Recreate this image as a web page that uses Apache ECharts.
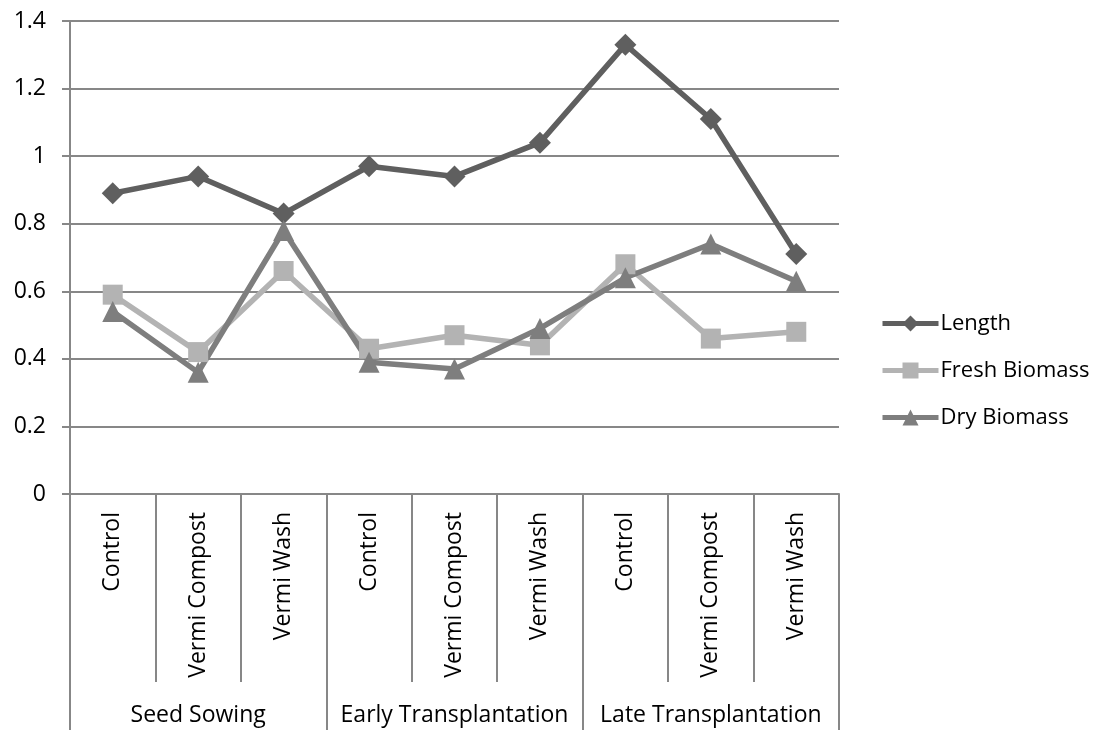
<!DOCTYPE html>
<html>
<head>
<meta charset="utf-8">
<script src="https://cdn.jsdelivr.net/npm/echarts@6/dist/echarts.min.js"></script>
<style>
  html, body { margin: 0; padding: 0; background: #ffffff; }
  #chart { width: 1095px; height: 730px; }
</style>
</head>
<body>
<div id="chart"></div>
<script>
// Treatments within each planting stage
const treatments = ['Control', 'Vermi Compost', 'Vermi Wash',
                    'Control', 'Vermi Compost', 'Vermi Wash',
                    'Control', 'Vermi Compost', 'Vermi Wash'];
const stages = ['Seed Sowing', 'Early Transplantation', 'Late Transplantation'];

const seriesNames = ['Length', 'Fresh Biomass', 'Dry Biomass'];
const lengthValues = [0.89, 0.94, 0.83, 0.97, 0.94, 1.04, 1.33, 1.11, 0.71];
const freshBiomass = [0.59, 0.42, 0.66, 0.43, 0.47, 0.44, 0.68, 0.46, 0.48];
const dryBiomass   = [0.54, 0.36, 0.78, 0.39, 0.37, 0.49, 0.64, 0.74, 0.63];

const yTicks = [0, 0.2, 0.4, 0.6, 0.8, 1, 1.2, 1.4];

const FONT = 'Open Sans';
const FONT_SIZE = 23;
const AXIS_GREY = '#878787';

const chart = echarts.init(document.getElementById('chart'), null, { renderer: 'canvas' });

function lineSeries(name, data, color, symbol, size) {
  return {
    name: name,
    type: 'line',
    data: data,
    xAxisIndex: 0,
    symbol: symbol,
    symbolSize: size,
    showAllSymbol: true,
    lineStyle: { color: color, width: 5.5 },
    itemStyle: { color: color },
    emphasis: { disabled: true },
    animation: false
  };
}

chart.setOption({
  animation: false,
  backgroundColor: '#ffffff',
  grid: { left: 70, right: 256, top: 21, bottom: 236, containLabel: false },
  legend: {
    orient: 'vertical',
    left: 875,
    top: 306,
    itemWidth: 56,
    itemHeight: 20,
    itemGap: 22,
    lineStyle: { width: 5 },
    textStyle: { fontFamily: FONT, fontSize: 22, lineHeight: 25, color: '#000', padding: [0, 0, 0, -3] },
    data: seriesNames
  },
  xAxis: [
    {
      type: 'category',
      data: treatments,
      position: 'bottom',
      boundaryGap: true,
      axisLine: { show: true, lineStyle: { color: AXIS_GREY, width: 2 } },
      axisTick: { show: true, interval: 0, length: 188, lineStyle: { color: AXIS_GREY, width: 2 } },
      axisLabel: {
        interval: 0, rotate: 90, margin: 18,
        fontFamily: FONT, fontSize: FONT_SIZE, color: '#000'
      },
      splitLine: { show: false }
    },
    {
      type: 'category',
      data: stages,
      position: 'bottom',
      boundaryGap: true,
      axisLine: { show: false },
      axisTick: { show: true, interval: 0, length: 236, lineStyle: { color: AXIS_GREY, width: 2 } },
      axisLabel: {
        interval: 0, margin: 210,
        fontFamily: FONT, fontSize: FONT_SIZE, color: '#000'
      },
      splitLine: { show: false }
    }
  ],
  yAxis: {
    type: 'value',
    min: yTicks[0],
    max: yTicks[yTicks.length - 1],
    interval: 0.2,
    axisLine: { show: true, lineStyle: { color: AXIS_GREY, width: 2 } },
    axisTick: { show: true, length: 8, lineStyle: { color: AXIS_GREY, width: 2 } },
    axisLabel: {
      margin: 24, fontFamily: FONT, fontSize: FONT_SIZE, color: '#000',
      formatter: v => String(Math.round(v * 10) / 10)
    },
    splitLine: { show: true, lineStyle: { color: AXIS_GREY, width: 2 } }
  },
  series: [
    lineSeries(seriesNames[0], lengthValues, '#5f5f5f', 'diamond', 22),
    lineSeries(seriesNames[1], freshBiomass, '#b3b3b3', 'rect', 20),
    lineSeries(seriesNames[2], dryBiomass, '#7e7e7e', 'triangle', 21)
  ]
});
</script>
</body>
</html>
